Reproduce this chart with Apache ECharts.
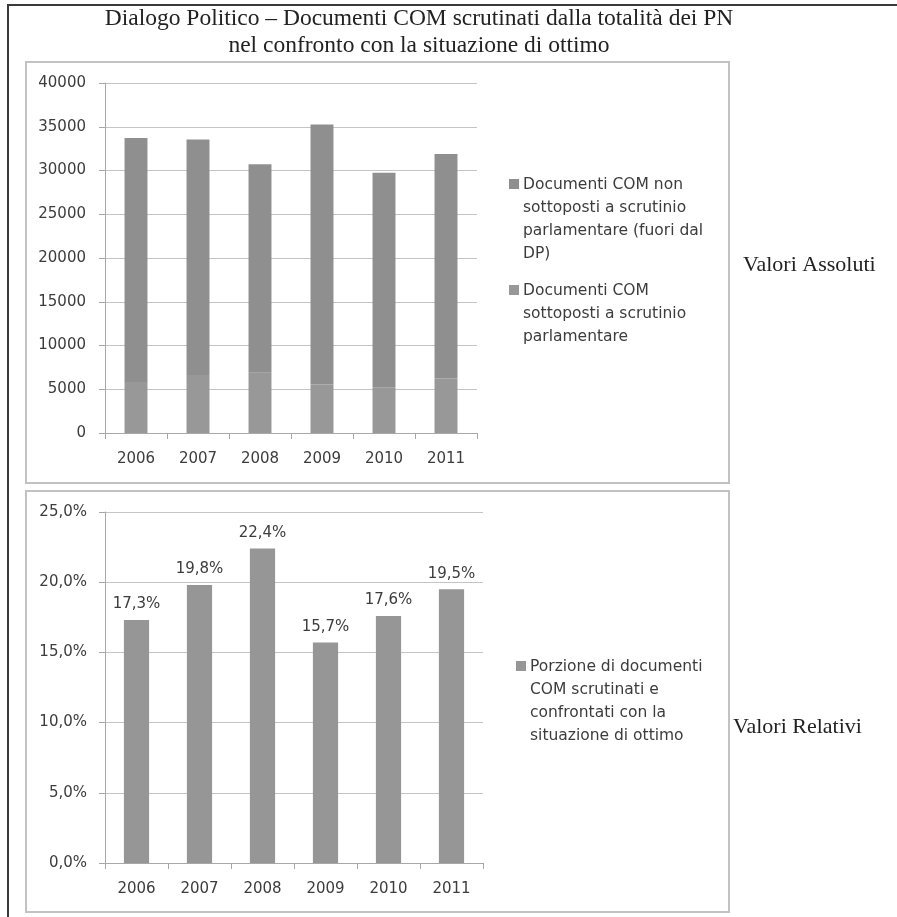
<!DOCTYPE html>
<html>
<head>
<meta charset="utf-8">
<style>
  html, body { margin: 0; padding: 0; background: #ffffff; }
  #chart { width: 897px; height: 917px; }
</style>
<script src="https://cdn.jsdelivr.net/npm/echarts@6/dist/echarts.min.js"></script>
</head>
<body>
<div id="chart"></div>
<script>
// Years on both category axes
const years = ['2006', '2007', '2008', '2009', '2010', '2011'];

// Absolute values: COM documents scrutinised / not scrutinised by parliaments
const scrutinati = [5830, 6640, 6890, 5540, 5230, 6220];
const nonScrutinati = [27890, 26900, 23830, 29710, 24500, 25680];

// Relative values: share of COM documents scrutinised (percent)
const porzione = [17.3, 19.8, 22.4, 15.7, 17.6, 19.5];

// Series names (legend text, broken on several lines)
const nameNon = 'Documenti COM non\nsottoposti a scrutinio\nparlamentare (fuori dal\nDP)';
const nameSi = 'Documenti COM\nsottoposti a scrutinio\nparlamentare';
const namePorz = 'Porzione di documenti\nCOM scrutinati e\nconfrontati con la\nsituazione di ottimo';

const titleText = 'Dialogo Politico – Documenti COM scrutinati dalla totalità dei PN\nnel confronto con la situazione di ottimo';

const colNon = '#8f8f8f';
const colSi = '#989898';
const colPorz = '#969696';

const sans = 'DejaVu Sans';
const serif = 'Liberation Serif';
const textCol = '#3c3c3c';
const gridCol = '#c4c4c4';
const axisCol = '#a8a8a8';

function legendItem(x, y, color, text) {
  return [
    { type: 'rect', shape: { x: x, y: y, width: 10, height: 10 }, style: { fill: color } },
    { type: 'text', x: x + 14, y: y - 6,
      style: { text: text, font: '15.5px "' + sans + '"', fill: textCol, lineHeight: 23 } }
  ];
}

const chart = echarts.init(document.getElementById('chart'), null, { renderer: 'canvas' });

const valueAxisCommon = {
  type: 'value',
  axisLine: { show: true, lineStyle: { color: axisCol, width: 1 } },
  axisTick: { show: true, length: 6, lineStyle: { color: axisCol } },
  splitLine: { show: true, lineStyle: { color: gridCol, width: 1 } },
  axisLabel: { color: textCol, fontFamily: sans, fontSize: 15, margin: 19 }
};

const catAxisCommon = {
  type: 'category',
  data: years,
  boundaryGap: true,
  axisLine: { show: true, lineStyle: { color: axisCol, width: 1 } },
  axisTick: { show: true, length: 6, alignWithLabel: false, lineStyle: { color: axisCol } },
  axisLabel: { color: textCol, fontFamily: sans, fontSize: 15, margin: 19 }
};

const option = {
  backgroundColor: '#ffffff',
  animation: false,
  title: {
    text: titleText,
    left: 414,
    textAlign: 'center',
    top: 0,
    textStyle: { fontFamily: serif, fontSize: 23.5, fontWeight: 'normal', color: '#222222', lineHeight: 27 }
  },
  grid: [
    { left: 105, top: 83, width: 372, height: 350 },
    { left: 105, top: 512, width: 378, height: 351 }
  ],
  xAxis: [
    Object.assign({}, catAxisCommon, { gridIndex: 0 }),
    Object.assign({}, catAxisCommon, { gridIndex: 1 })
  ],
  yAxis: [
    Object.assign({}, valueAxisCommon, {
      gridIndex: 0, min: 0, max: 40000, interval: 5000,
      axisLabel: Object.assign({}, valueAxisCommon.axisLabel, {
        formatter: function (v) { return String(v); }
      })
    }),
    Object.assign({}, valueAxisCommon, {
      gridIndex: 1, min: 0, max: 25, interval: 5,
      axisLabel: Object.assign({}, valueAxisCommon.axisLabel, {
        margin: 18,
        formatter: function (v) { return v.toFixed(1).replace('.', ',') + '%'; }
      })
    })
  ],
  series: [
    {
      name: nameSi, type: 'bar', stack: 'abs', xAxisIndex: 0, yAxisIndex: 0,
      data: scrutinati, barWidth: '37%', itemStyle: { color: colSi }
    },
    {
      name: nameNon, type: 'bar', stack: 'abs', xAxisIndex: 0, yAxisIndex: 0,
      data: nonScrutinati, barWidth: '37%', itemStyle: { color: colNon }
    },
    {
      name: namePorz, type: 'bar', xAxisIndex: 1, yAxisIndex: 1,
      data: porzione, barWidth: '40%', itemStyle: { color: colPorz },
      label: {
        show: true, position: 'top', distance: 8,
        color: textCol, fontFamily: sans, fontSize: 15,
        formatter: function (p) { return p.value.toFixed(1).replace('.', ',') + '%'; }
      }
    }
  ],
  graphic: [
    // outer frame (top and left edges)
    { type: 'line', shape: { x1: 7, y1: 5, x2: 897, y2: 5 }, style: { stroke: '#3a3a3a', lineWidth: 2 } },
    { type: 'line', shape: { x1: 8, y1: 4, x2: 8, y2: 917 }, style: { stroke: '#3a3a3a', lineWidth: 2 } },
    // chart area boxes
    { type: 'rect', shape: { x: 26, y: 62, width: 703, height: 421 }, style: { fill: 'none', stroke: '#c2c2c2', lineWidth: 2 } },
    { type: 'rect', shape: { x: 26, y: 491, width: 703, height: 421 }, style: { fill: 'none', stroke: '#c2c2c2', lineWidth: 2 } },
    // side captions
    { type: 'text', x: 743, y: 254, style: { text: 'Valori Assoluti', font: '22px "' + serif + '"', fill: '#222222' } },
    { type: 'text', x: 733, y: 716, style: { text: 'Valori Relativi', font: '22px "' + serif + '"', fill: '#222222' } }
  ]
    .concat(legendItem(509, 179, colNon, nameNon))
    .concat(legendItem(509, 285, colSi, nameSi))
    .concat(legendItem(516, 661, colPorz, namePorz))
};

chart.setOption(option);
</script>
</body>
</html>
